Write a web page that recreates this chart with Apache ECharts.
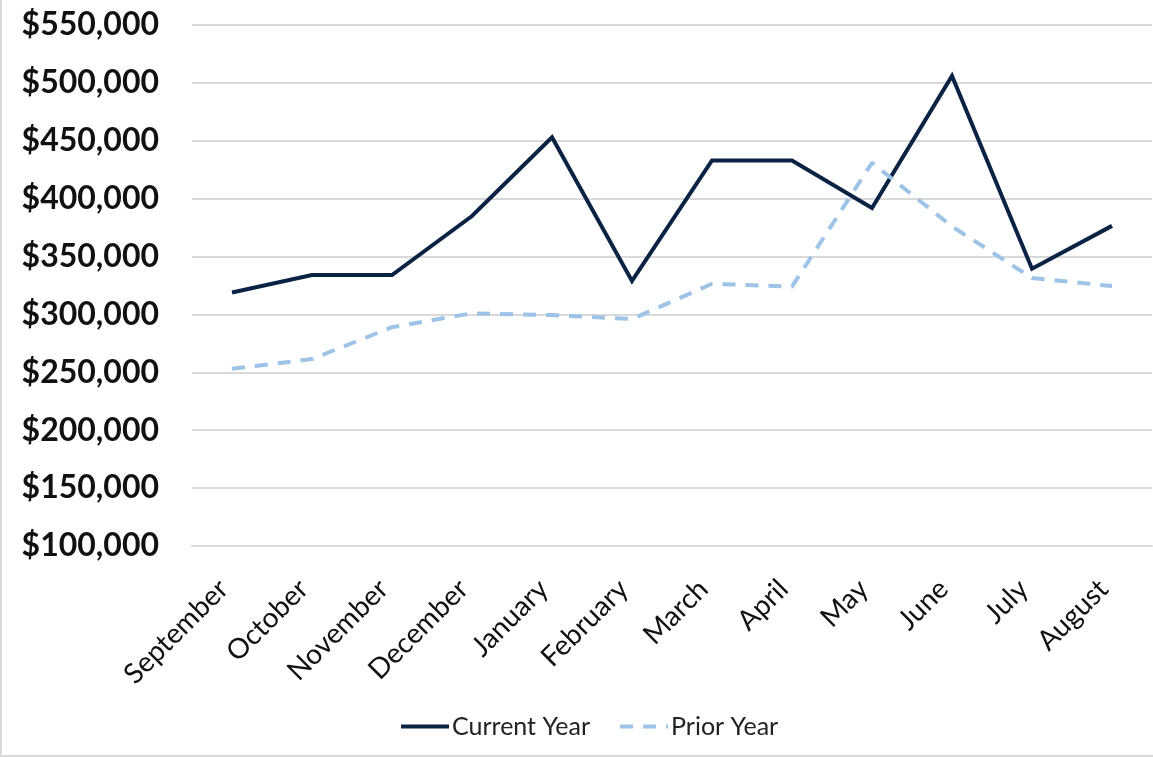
<!DOCTYPE html>
<html>
<head>
<meta charset="utf-8">
<script src="https://cdn.jsdelivr.net/npm/echarts@6/dist/echarts.min.js"></script>
<style>
  html, body { margin: 0; padding: 0; background: #fff; }
  #chart { width: 1153px; height: 757px; box-sizing: border-box; border-left: 2px solid #d9d9d9; border-bottom: 2px solid #d9d9d9; }
</style>
</head>
<body>
<div id="chart"></div>
<script>
const months = ['September','October','November','December','January','February','March','April','May','June','July','August'];
const currentYear = [319000, 334000, 334000, 385000, 453000, 329000, 433000, 433000, 392000, 506000, 339500, 376500];
const priorYear = [253000, 261500, 289000, 301000, 299500, 296000, 326500, 324000, 431000, 376000, 331500, 324500];
const yTicks = { min: 100000, max: 550000, interval: 50000 };

const chart = echarts.init(document.getElementById('chart'), null, { renderer: 'canvas' });
chart.setOption({
  animation: false,
  backgroundColor: '#ffffff',
  grid: { left: 190, right: 1, top: 25, bottom: 209, containLabel: false },
  legend: {
    bottom: 11,
    left: 392,
    itemWidth: 48,
    itemHeight: 14,
    itemGap: 28,
    itemStyle: { opacity: 0 },
    lineStyle: { width: 4 },
    textStyle: { fontFamily: 'Lato', fontSize: 25, color: '#222222', padding: [0, 0, 0, -2] },
    data: ['Current Year', 'Prior Year']
  },
  xAxis: {
    type: 'category',
    data: months,
    boundaryGap: true,
    axisLine: { show: true, lineStyle: { color: '#d9d9d9', width: 2 } },
    axisTick: { show: false },
    axisLabel: {
      rotate: 45,
      interval: 0,
      margin: 30,
      padding: [0, 12, 0, 0],
      fontFamily: 'Lato',
      fontSize: 28,
      color: '#111111'
    }
  },
  yAxis: {
    type: 'value',
    min: yTicks.min,
    max: yTicks.max,
    interval: yTicks.interval,
    axisLine: { show: false },
    axisTick: { show: false },
    splitLine: { lineStyle: { color: '#d9d9d9', width: 2 } },
    axisLabel: {
      margin: 33,
      fontFamily: 'Lato',
      fontWeight: 'bold',
      fontSize: 32,
      color: '#111111',
      formatter: v => '$' + v.toLocaleString('en-US')
    }
  },
  series: [
    {
      name: 'Current Year',
      type: 'line',
      data: currentYear,
      symbol: 'none',
      lineStyle: { color: '#0b2343', width: 4, join: 'miter' },
      itemStyle: { color: '#0b2343' }
    },
    {
      name: 'Prior Year',
      type: 'line',
      data: priorYear,
      symbol: 'none',
      lineStyle: { color: '#9dc3e6', width: 4, type: [13, 10] },
      itemStyle: { color: '#9dc3e6' }
    }
  ]
});
</script>
</body>
</html>
